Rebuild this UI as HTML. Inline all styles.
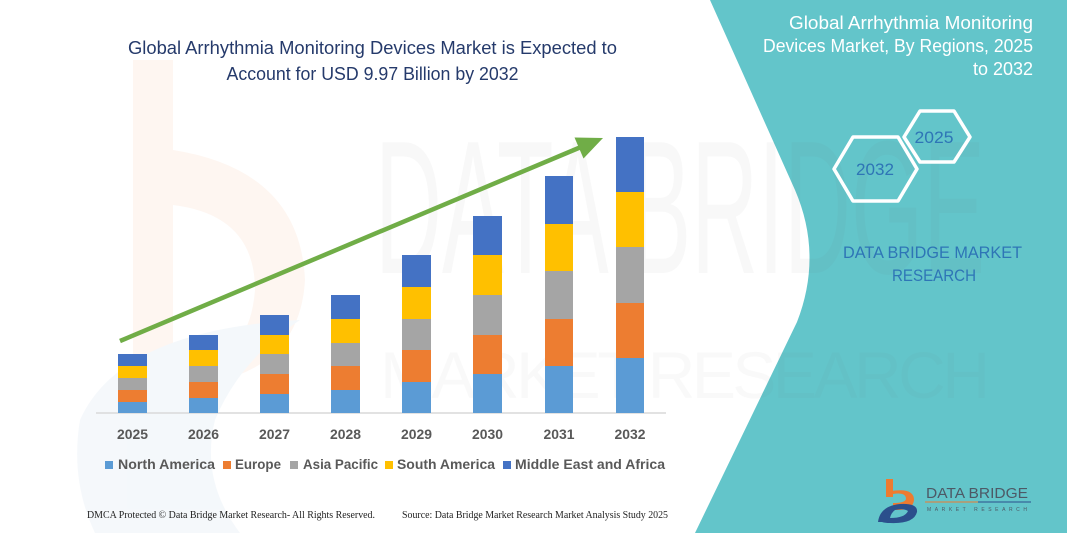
<!DOCTYPE html>
<html>
<head>
<meta charset="utf-8">
<style>
html,body{margin:0;padding:0;background:#fff;}
svg{display:block;}
</style>
</head>
<body>
<svg width="1067" height="533" viewBox="0 0 1067 533" xmlns="http://www.w3.org/2000/svg">
  <rect x="0" y="0" width="1067" height="533" fill="#ffffff"/>

  <!-- faint left logo watermark -->
  <g opacity="0.4">
    <path d="M133,60 L173,60 L173,150 Q300,170 305,280 Q300,370 200,385 L133,385 Z" fill="#fde9dd"/>
    <path d="M173,205 Q255,215 255,290 Q250,355 200,360 L173,360 Z" fill="#ffffff"/>
    <path d="M80,420 Q120,330 300,320 Q240,360 215,420 Q200,480 240,533 L95,533 Q70,480 80,420 Z" fill="#e6eef6"/>
  </g>

  <!-- teal panel -->
  <path d="M710,0 L795,190 Q823,255 797,322 L695,533 L1067,533 L1067,0 Z" fill="#63c5ca"/>

  <!-- big faint watermark text -->
  <text x="375" y="273" font-family="Liberation Sans, sans-serif" font-size="190" textLength="610" lengthAdjust="spacingAndGlyphs" fill="#6f6f6f" opacity="0.045">DATA BRIDGE</text>
  <text x="380" y="398" font-family="Liberation Sans, sans-serif" font-size="66" textLength="610" lengthAdjust="spacing" fill="#6f6f6f" opacity="0.035">MARKET RESEARCH</text>

  <!-- main title -->
  <text x="372.5" y="54" text-anchor="middle" font-family="Liberation Sans, sans-serif" font-size="18" fill="#253a6b" textLength="489" lengthAdjust="spacingAndGlyphs">Global Arrhythmia Monitoring Devices Market is Expected to</text>
  <text x="372.5" y="80" text-anchor="middle" font-family="Liberation Sans, sans-serif" font-size="18" fill="#253a6b" textLength="292" lengthAdjust="spacingAndGlyphs">Account for USD 9.97 Billion by 2032</text>

  <!-- axis line -->
  <line x1="96" y1="413" x2="666" y2="413" stroke="#d9d9d9" stroke-width="1.5"/>

  <!-- bars: NA, EU, AP, SA, MEA from bottom -->
  <g>
    <rect x="118" y="402" width="29" height="11" fill="#5b9bd5"/>
    <rect x="118" y="390" width="29" height="12" fill="#ed7d31"/>
    <rect x="118" y="378" width="29" height="12" fill="#a5a5a5"/>
    <rect x="118" y="366" width="29" height="12" fill="#ffc000"/>
    <rect x="118" y="354" width="29" height="12" fill="#4472c4"/>

    <rect x="189" y="398" width="29" height="15" fill="#5b9bd5"/>
    <rect x="189" y="382" width="29" height="16" fill="#ed7d31"/>
    <rect x="189" y="366" width="29" height="16" fill="#a5a5a5"/>
    <rect x="189" y="350" width="29" height="16" fill="#ffc000"/>
    <rect x="189" y="335" width="29" height="15" fill="#4472c4"/>

    <rect x="260" y="394" width="29" height="19" fill="#5b9bd5"/>
    <rect x="260" y="374" width="29" height="20" fill="#ed7d31"/>
    <rect x="260" y="354" width="29" height="20" fill="#a5a5a5"/>
    <rect x="260" y="335" width="29" height="19" fill="#ffc000"/>
    <rect x="260" y="315" width="29" height="20" fill="#4472c4"/>

    <rect x="331" y="390" width="29" height="23" fill="#5b9bd5"/>
    <rect x="331" y="366" width="29" height="24" fill="#ed7d31"/>
    <rect x="331" y="343" width="29" height="23" fill="#a5a5a5"/>
    <rect x="331" y="319" width="29" height="24" fill="#ffc000"/>
    <rect x="331" y="295" width="29" height="24" fill="#4472c4"/>

    <rect x="402" y="382" width="29" height="31" fill="#5b9bd5"/>
    <rect x="402" y="350" width="29" height="32" fill="#ed7d31"/>
    <rect x="402" y="319" width="29" height="31" fill="#a5a5a5"/>
    <rect x="402" y="287" width="29" height="32" fill="#ffc000"/>
    <rect x="402" y="255" width="29" height="32" fill="#4472c4"/>

    <rect x="473" y="374" width="29" height="39" fill="#5b9bd5"/>
    <rect x="473" y="335" width="29" height="39" fill="#ed7d31"/>
    <rect x="473" y="295" width="29" height="40" fill="#a5a5a5"/>
    <rect x="473" y="255" width="29" height="40" fill="#ffc000"/>
    <rect x="473" y="216" width="29" height="39" fill="#4472c4"/>

    <rect x="545" y="366" width="28" height="47" fill="#5b9bd5"/>
    <rect x="545" y="319" width="28" height="47" fill="#ed7d31"/>
    <rect x="545" y="271" width="28" height="48" fill="#a5a5a5"/>
    <rect x="545" y="224" width="28" height="47" fill="#ffc000"/>
    <rect x="545" y="176" width="28" height="48" fill="#4472c4"/>

    <rect x="616" y="358" width="28" height="55" fill="#5b9bd5"/>
    <rect x="616" y="303" width="28" height="55" fill="#ed7d31"/>
    <rect x="616" y="247" width="28" height="56" fill="#a5a5a5"/>
    <rect x="616" y="192" width="28" height="55" fill="#ffc000"/>
    <rect x="616" y="137" width="28" height="55" fill="#4472c4"/>
  </g>

  <!-- green arrow -->
  <line x1="120" y1="341" x2="581" y2="147" stroke="#70ad47" stroke-width="4.5"/>
  <polygon points="603,138 574.5,137.5 583.5,158.5" fill="#70ad47"/>

  <!-- year labels -->
  <g font-family="Liberation Sans, sans-serif" font-size="13.5" font-weight="bold" fill="#595959" text-anchor="middle">
    <text x="132.5" y="439" textLength="31" lengthAdjust="spacingAndGlyphs">2025</text>
    <text x="203.5" y="439" textLength="31" lengthAdjust="spacingAndGlyphs">2026</text>
    <text x="274.5" y="439" textLength="31" lengthAdjust="spacingAndGlyphs">2027</text>
    <text x="345.5" y="439" textLength="31" lengthAdjust="spacingAndGlyphs">2028</text>
    <text x="416.5" y="439" textLength="31" lengthAdjust="spacingAndGlyphs">2029</text>
    <text x="487.5" y="439" textLength="31" lengthAdjust="spacingAndGlyphs">2030</text>
    <text x="559" y="439" textLength="31" lengthAdjust="spacingAndGlyphs">2031</text>
    <text x="630" y="439" textLength="31" lengthAdjust="spacingAndGlyphs">2032</text>
  </g>

  <!-- legend -->
  <g font-family="Liberation Sans, sans-serif" font-size="13.5" font-weight="bold" fill="#595959">
    <rect x="105" y="461" width="8" height="8" fill="#5b9bd5"/>
    <text x="118" y="469" textLength="97" lengthAdjust="spacingAndGlyphs">North America</text>
    <rect x="223" y="461" width="8" height="8" fill="#ed7d31"/>
    <text x="235" y="469" textLength="46" lengthAdjust="spacingAndGlyphs">Europe</text>
    <rect x="290" y="461" width="8" height="8" fill="#a5a5a5"/>
    <text x="303" y="469" textLength="75" lengthAdjust="spacingAndGlyphs">Asia Pacific</text>
    <rect x="385" y="461" width="8" height="8" fill="#ffc000"/>
    <text x="397" y="469" textLength="98" lengthAdjust="spacingAndGlyphs">South America</text>
    <rect x="503" y="461" width="8" height="8" fill="#4472c4"/>
    <text x="515" y="469" textLength="150" lengthAdjust="spacingAndGlyphs">Middle East and Africa</text>
  </g>

  <!-- footer -->
  <g font-family="Liberation Serif, serif" font-size="10" fill="#222">
    <text x="87" y="518" textLength="288" lengthAdjust="spacingAndGlyphs">DMCA Protected © Data Bridge Market Research-  All Rights Reserved.</text>
    <text x="402" y="518" textLength="266" lengthAdjust="spacingAndGlyphs">Source: Data Bridge Market Research  Market Analysis Study 2025</text>
  </g>

  <!-- right panel title -->
  <g font-family="Liberation Sans, sans-serif" font-size="18" fill="#ffffff" text-anchor="end">
    <text x="1033" y="29" textLength="244" lengthAdjust="spacingAndGlyphs">Global Arrhythmia Monitoring</text>
    <text x="1033" y="52" textLength="270" lengthAdjust="spacingAndGlyphs">Devices Market, By Regions, 2025</text>
    <text x="1033" y="75" textLength="60" lengthAdjust="spacingAndGlyphs">to 2032</text>
  </g>

  <!-- hexagons -->
  <polygon points="834,169 853,137 898,137 917,169 898,201 853,201" fill="none" stroke="#ffffff" stroke-width="3.5" stroke-linejoin="round"/>
  <polygon points="904,137 920,111 954,111 970,137 954,162 920,162" fill="none" stroke="#ffffff" stroke-width="3.5" stroke-linejoin="round"/>
  <g font-family="Liberation Sans, sans-serif" font-size="17" fill="#2e75b6" text-anchor="middle">
    <text x="875" y="175" textLength="38" lengthAdjust="spacingAndGlyphs">2032</text>
    <text x="934" y="143" textLength="39" lengthAdjust="spacingAndGlyphs">2025</text>
  </g>

  <!-- DATA BRIDGE MARKET RESEARCH -->
  <g font-family="Liberation Sans, sans-serif" font-size="17" fill="#2e75b6" text-anchor="middle">
    <text x="932.5" y="258" textLength="179" lengthAdjust="spacingAndGlyphs">DATA BRIDGE MARKET</text>
    <text x="934" y="281" textLength="84" lengthAdjust="spacingAndGlyphs">RESEARCH</text>
  </g>

  <!-- logo bottom right -->
  <g>
    <rect x="886" y="479" width="7" height="18" fill="#ee7b30"/>
    <path d="M886,492 Q914,486 914,500 Q913,510 898,510 L893,510 L893,503 Q905,503 906,499 Q906,492 893,494 Z" fill="#ee7b30"/>
    <path d="M878,522 Q880,506 900,504 Q918,503 917,512 Q914,524 890,523 Q885,523 882,522 Z M890,518 Q905,518 908,511 Q904,508 895,510 Q891,513 890,518 Z" fill="#2b4f8c" fill-rule="evenodd"/>
    <text x="926" y="498" font-family="Liberation Sans, sans-serif" font-size="15" fill="#4d5966" textLength="102" lengthAdjust="spacingAndGlyphs">DATA BRIDGE</text>
    <line x1="925" y1="502" x2="978" y2="502" stroke="#ee7b30" stroke-width="1"/>
    <line x1="978" y1="502" x2="1031" y2="502" stroke="#2b4f8c" stroke-width="1"/>
    <text x="927" y="511" font-family="Liberation Sans, sans-serif" font-size="5" fill="#4d5966" textLength="100" lengthAdjust="spacing">MARKET RESEARCH</text>
  </g>
</svg>
</body>
</html>
